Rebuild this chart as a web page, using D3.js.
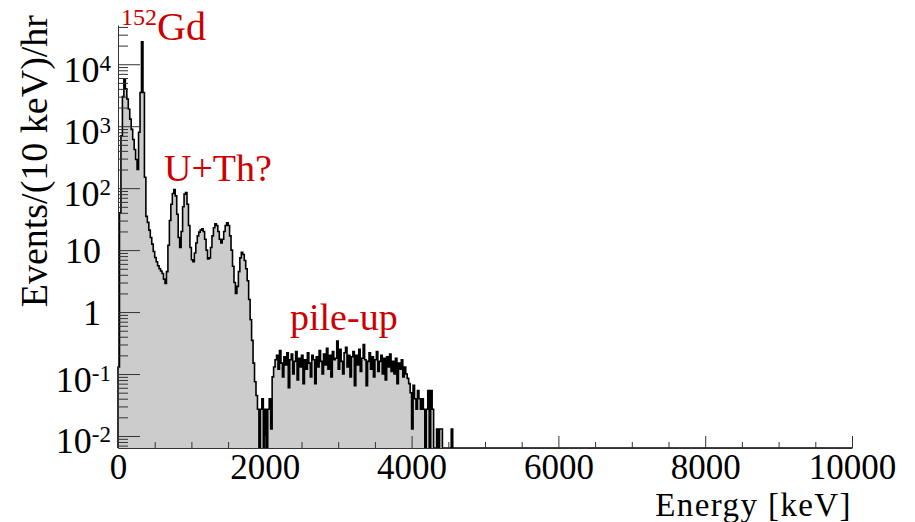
<!DOCTYPE html>
<html>
<head>
<meta charset="utf-8">
<script src="https://cdn.jsdelivr.net/npm/d3@7"></script>
<style>
  body { margin: 0; background: #fff; }
  svg { display: block; }
  text { font-family: "Liberation Serif", "Times New Roman", serif; }
</style>
</head>
<body>
<svg id="chart" width="915" height="522"></svg>
<script>
// Energy spectrum, 20 keV bins starting at 0 keV; bins past the list are empty.
const binWidth = 20;
const energyRange = [0, 10000];
const rateRange = [0.0064, 43000];

const rates = [
  // 0 - 400 keV
  0.13, 40, 700, 3000, 5800, 4000, 2750, 1900, 1300, 890,
  610, 420, 290, 200, 800, 3500, 23000, 3500, 150, 35,
  // 400 - 800 keV
  28, 21, 16, 12.5, 9.5, 7.6, 6.5, 5.6, 5.0, 4.6,
  4.2, 3.4, 2.9, 4.5, 12, 30, 55, 82, 95, 75,
  // 800 - 1200 keV
  38, 16, 11, 20, 50, 80, 85, 55, 25, 11,
  7, 6.5, 9, 13, 17, 19.5, 21, 22, 20, 15,
  // 1200 - 1600 keV
  10, 7.2, 7.5, 11, 17, 23, 26.5, 25, 20, 15,
  13, 15, 20, 25, 27.5, 25, 17, 10, 5.5, 3,
  // 1600 - 2000 keV
  2.0, 2.6, 4.5, 7.5, 9.2, 8.5, 6.8, 5, 3.2, 1.6,
  0.75, 0.35, 0.15, 0.075, 0.045, 0.027, 0, 0.027, 0.04, 0,
  // 2000 - 2400 keV
  0.027, 0, 0.027, 0.04, 0.013, 0.09, 0.13, 0.17, 0.2, 0.12,
  0.24, 0.15, 0.09, 0.19, 0.14, 0.22, 0.06, 0.17, 0.21, 0.1,
  // 2400 - 2800 keV
  0.16, 0.23, 0.08, 0.18, 0.13, 0.2, 0.07, 0.17, 0.12, 0.22,
  0.15, 0.09, 0.2, 0.17, 0.07, 0.19, 0.13, 0.24, 0.16, 0.1,
  // 2800 - 3200 keV
  0.21, 0.14, 0.26, 0.12, 0.2, 0.09, 0.23, 0.17, 0.18, 0.34,
  0.12, 0.25, 0.16, 0.1, 0.22, 0.27, 0.13, 0.2, 0.09, 0.19,
  // 3200 - 3600 keV
  0.23, 0.065, 0.2, 0.14, 0.25, 0.11, 0.18, 0.3, 0.17, 0.065,
  0.16, 0.22, 0.12, 0.19, 0.09, 0.17, 0.23, 0.11, 0.16, 0.2,
  // 3600 - 4000 keV
  0.1, 0.18, 0.08, 0.19, 0.13, 0.21, 0.11, 0.16, 0.1, 0.18,
  0.07, 0.15, 0.12, 0.17, 0.09, 0.13, 0.1, 0.085, 0.07, 0.05,
  // 4000 - 4400 keV
  0.013, 0.066, 0.04, 0.027, 0.054, 0.04, 0.027, 0.04, 0.027, 0,
  0.027, 0.054, 0, 0.054, 0.027, 0, 0, 0.013, 0, 0.013,
  // 4400 - 4560 keV
  0.013, 0, 0, 0, 0, 0, 0, 0.013
];

const xTickValues = [0, 2000, 4000, 6000, 8000, 10000];
const xMinorStep = 500;
const yDecades = [-2, -1, 0, 1, 2, 3, 4];

const xTitle = "Energy [keV]";
const yTitle = "Events/(10 keV)/hr";

const svg = d3.select("#chart");
const frame = { left: 118, right: 852, top: 25, bottom: 448 };

const x = d3.scaleLinear().domain(energyRange).range([frame.left, frame.right]);
const y = d3.scaleLog().domain(rateRange).range([frame.bottom, frame.top]);

const nBins = Math.round((energyRange[1] - energyRange[0]) / binWidth);
const bins = d3.range(nBins).map(i => ({ e: energyRange[0] + i * binWidth, v: rates[i] || 0 }));
const steps = [{ e: energyRange[0], v: 0 }, ...bins, { e: energyRange[1], v: bins[nBins - 1].v }];

const yOf = v => (v > 0 ? Math.min(frame.bottom, Math.max(frame.top, y(v))) : frame.bottom);

// filled histogram
svg.append("path")
  .datum(steps)
  .attr("fill", "#cccccc")
  .attr("d", d3.area().curve(d3.curveStepAfter)
    .x(d => x(d.e)).y0(frame.bottom).y1(d => yOf(d.v)));

svg.append("path")
  .datum(steps)
  .attr("fill", "none")
  .attr("stroke", "#000")
  .attr("stroke-width", 1.6)
  .attr("stroke-linejoin", "miter")
  .attr("d", d3.line().curve(d3.curveStepAfter)
    .x(d => x(d.e)).y(d => yOf(d.v)));

// x axis: minor ticks every 500 keV, major ticks with labels every 2000 keV
const axisColor = "#333";
const xMinor = d3.range(energyRange[0], energyRange[1] + 1, xMinorStep)
  .filter(v => !xTickValues.includes(v));

const gxMinor = svg.append("g")
  .attr("transform", `translate(0,${frame.bottom})`)
  .call(d3.axisBottom(x).tickValues(xMinor).tickSizeInner(-6).tickSizeOuter(0).tickFormat(""));
gxMinor.select(".domain").remove();

const gx = svg.append("g")
  .attr("transform", `translate(0,${frame.bottom})`)
  .call(d3.axisBottom(x).tickValues(xTickValues).tickSizeInner(-12).tickSizeOuter(0)
    .tickFormat(d3.format("d")));
gx.selectAll("text")
  .attr("y", 31).attr("dy", 0)
  .attr("font-size", 35).attr("fill", "#000");

// y axis: decades with superscript exponents, minor ticks 2..9
const yMinor = [];
for (let p = -3; p <= 4; p++) {
  for (let m = 2; m <= 9; m++) {
    const v = m * Math.pow(10, p);
    if (v >= rateRange[0] && v <= rateRange[1]) yMinor.push(v);
  }
}
const yMajor = yDecades.map(p => Math.pow(10, p));

const gyMinor = svg.append("g")
  .attr("transform", `translate(${frame.left},0)`)
  .call(d3.axisLeft(y).tickValues(yMinor).tickSizeInner(-10).tickSizeOuter(0).tickFormat(""));
gyMinor.select(".domain").remove();

const gy = svg.append("g")
  .attr("transform", `translate(${frame.left},0)`)
  .call(d3.axisLeft(y).tickValues(yMajor).tickSizeInner(-22).tickSizeOuter(0).tickFormat(""));

[gx, gxMinor, gy, gyMinor].forEach(g => {
  g.selectAll("line").attr("stroke", axisColor);
  g.select(".domain").attr("stroke", axisColor);
});

// decade labels
gy.selectAll(".tick").each(function (d) {
  const p = Math.round(Math.log10(d));
  const t = d3.select(this).select("text")
    .attr("font-size", 36).attr("fill", "#000").attr("dy", 0);
  t.text(null);
  if (p === 0 || p === 1) {
    t.attr("x", -17).attr("y", 12.5).attr("text-anchor", "end").text(p === 0 ? "1" : "10");
  } else {
    t.attr("x", -7).attr("y", 17).attr("text-anchor", "end");
    t.append("tspan").text("10");
    t.append("tspan").attr("font-size", 23).attr("dy", -11).text(String(p));
  }
});

// axis titles
svg.append("text")
  .attr("x", frame.right).attr("y", 516)
  .attr("text-anchor", "end").attr("font-size", 33)
  .attr("letter-spacing", 1.4)
  .text(xTitle);

svg.append("text")
  .attr("transform", `translate(47,${frame.top - 10}) rotate(-90)`)
  .attr("text-anchor", "end").attr("font-size", 38)
  .text(yTitle);

// annotations
const red = "#cc0000";
const gd = svg.append("text").attr("x", 121).attr("y", 40).attr("fill", red);
gd.append("tspan").attr("font-size", 24).attr("dy", -15).text("152");
gd.append("tspan").attr("font-size", 40).attr("dy", 15).text("Gd");

svg.append("text").attr("x", 164).attr("y", 181)
  .attr("fill", red).attr("font-size", 38).text("U+Th?");

svg.append("text").attr("x", 290).attr("y", 330)
  .attr("fill", red).attr("font-size", 38).text("pile-up");
</script>
</body>
</html>
